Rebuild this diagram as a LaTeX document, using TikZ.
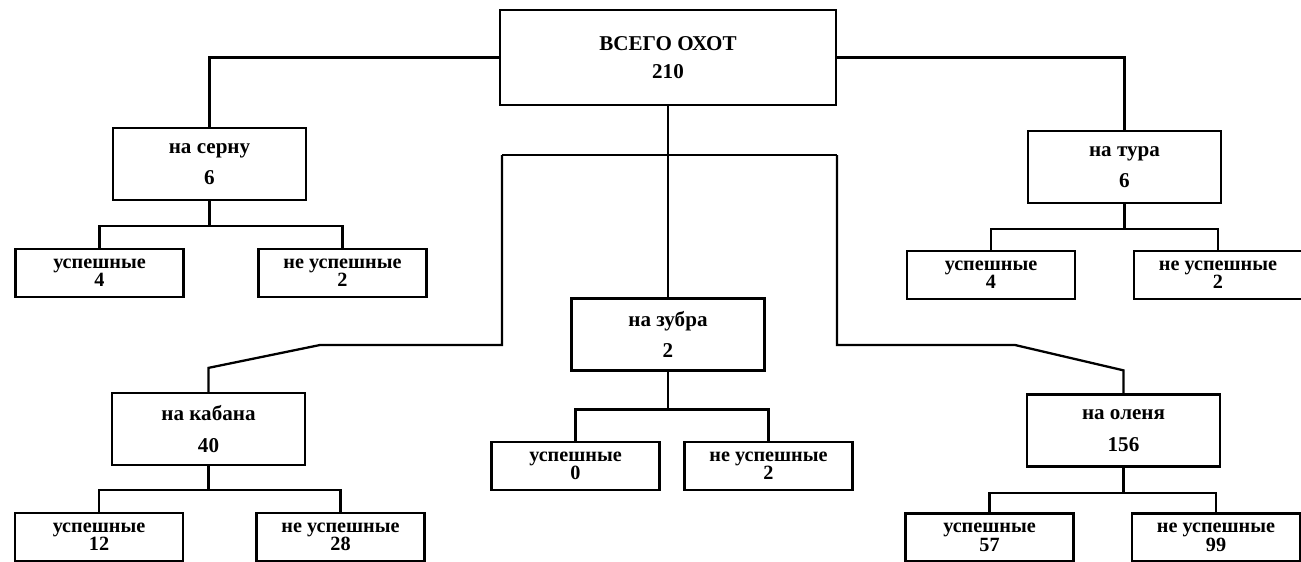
\documentclass[tikz,border=0pt]{standalone}
\usepackage{fontspec}
\setmainfont{Liberation Serif}
\usetikzlibrary{positioning, calc}

\begin{document}
\begin{tikzpicture}[
    x=0.02cm, y=-0.02cm,
    box/.style={draw, line width=1.3pt, align=center, inner sep=0pt, font=\fontsize{12}{18}\selectfont\bfseries},
    totalbox/.style={box, minimum width=6.72cm, minimum height=1.9cm, font=\fontsize{12}{16}\selectfont\bfseries},
    huntbox/.style={box, minimum width=3.86cm, minimum height=1.44cm},
    resbox/.style={box, minimum width=3.36cm, minimum height=0.96cm, font=\fontsize{11.5}{10.5}\selectfont\bfseries},
    link/.style={line width=1.3pt}
]
    \useasboundingbox (0,0) rectangle (1301,561);
    \fill[white] (0,0) rectangle (1301,561);

    % === Total and kinds of hunt ===
    \node[totalbox] (total) at (668,57.5) {ВСЕГО ОХОТ\\210};
    \node[huntbox] (serna) at (209.5,164) {на серну\\6};
    \node[huntbox] (tur) at (1124.5,167) {на тура\\6};
    \node[huntbox] (zubr) at (668,334.5) {на зубра\\2};
    \node[huntbox] (kaban) at (208.5,429) {на кабана\\40};
    \node[huntbox] (olen) at (1123.5,430.5) {на оленя\\156};

    % === Results ===
    \node[resbox] (serna-s) at (99.5,273) {успешные\\4};
    \node[resbox] (serna-n) at (342.5,273) {не успешные\\2};
    \node[resbox] (tur-s) at (991,275) {успешные\\4};
    \node[resbox] (tur-n) at (1218,275) {не успешные\\2};
    \node[resbox] (zubr-s) at (575.5,466) {успешные\\0};
    \node[resbox] (zubr-n) at (768.5,466) {не успешные\\2};
    \node[resbox] (kaban-s) at (99,537) {успешные\\12};
    \node[resbox] (kaban-n) at (340.5,537) {не успешные\\28};
    \node[resbox] (olen-s) at (989.5,537.5) {успешные\\57};
    \node[resbox] (olen-n) at (1216,537.5) {не успешные\\99};

    % links from the total
    \coordinate (barL) at (502,155);
    \coordinate (barR) at (837,155);
    \coordinate (bendL) at (320,345);
    \coordinate (bendR) at (1015,345);
    \draw[link] (total.west) -| (serna.north);
    \draw[link] (total.east) -| (tur.north);
    \draw[link] (total.south) -- (zubr.north);
    \draw[link] (barL) -- (barR);
    \draw[link] (kaban.north) -- ++(0,-24) -- (bendL) -| (barL);
    \draw[link] (olen.north) -- ++(0,-23) -- (bendR) -| (barR);

    % links to the results
    \foreach \h/\d in {serna/25, tur/25, zubr/38, kaban/24, olen/25} {
        \draw[link] (\h.south) -- ++(0,\d);
        \draw[link] (\h-s.north) |- ($(\h.south)+(0,\d)$) -| (\h-n.north);
    }

\end{tikzpicture}
\end{document}
